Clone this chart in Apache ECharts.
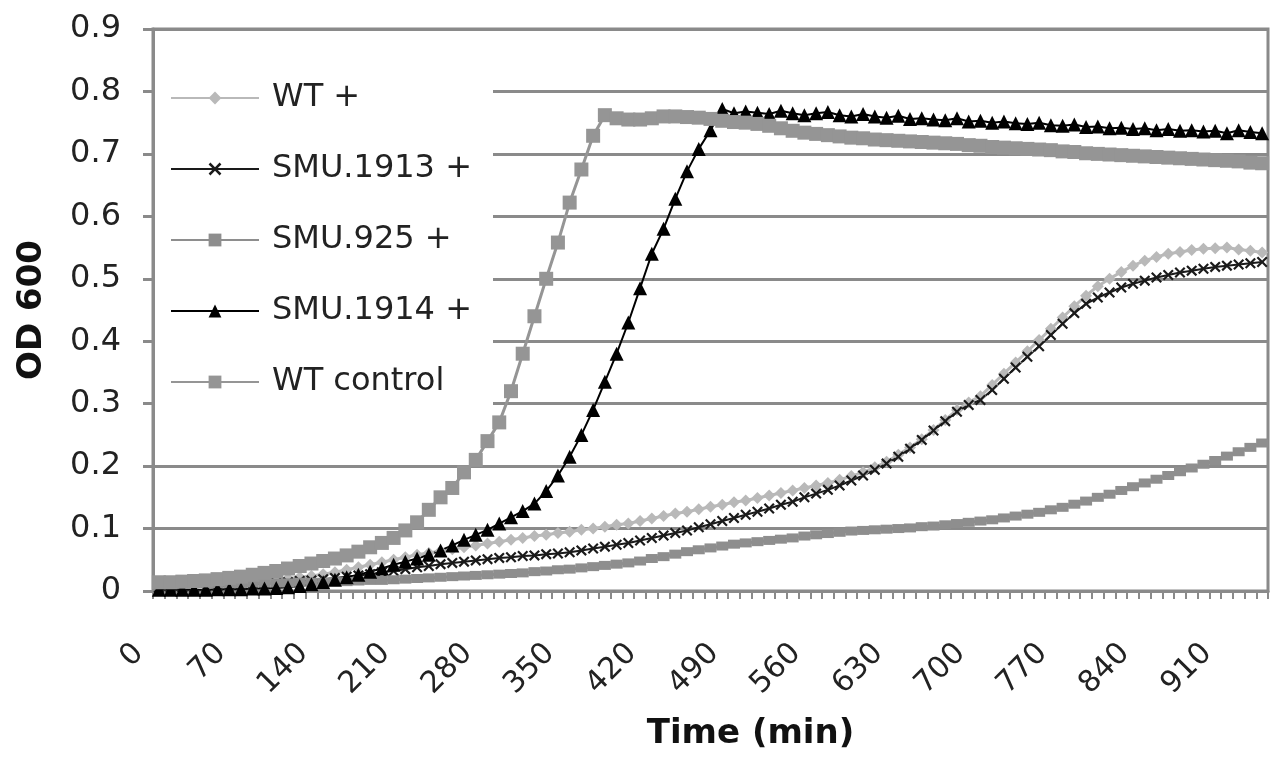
<!DOCTYPE html>
<html>
<head>
<meta charset="utf-8">
<script src="https://cdn.jsdelivr.net/npm/echarts@6/dist/echarts.min.js"></script>
<style>
html,body{margin:0;padding:0;background:#fff;}
#chart{width:1274px;height:758px;}
</style>
</head>
<body>
<div id="chart"></div>
<script>
// Time categories (min), one reading every 10 min
const times = [];
for (let t = 0; t <= 940; t += 10) times.push(String(t));

const wtPlus = [
0.010,0.010,0.011,0.011,0.012,0.012,0.013,0.014,0.015,0.016,
0.018,0.020,0.022,0.024,0.027,0.030,0.034,0.038,0.042,0.046,
0.050,0.054,0.058,0.061,0.064,0.067,0.070,0.073,0.076,0.079,
0.082,0.085,0.088,0.090,0.093,0.095,0.098,0.100,0.103,0.106,
0.108,0.112,0.116,0.120,0.124,0.127,0.131,0.135,0.138,0.142,
0.145,0.149,0.153,0.157,0.161,0.165,0.169,0.173,0.178,0.184,
0.190,0.198,0.207,0.218,0.230,0.243,0.258,0.274,0.290,0.302,
0.312,0.330,0.348,0.366,0.384,0.402,0.420,0.438,0.456,0.473,
0.488,0.500,0.511,0.521,0.529,0.535,0.540,0.543,0.546,0.548,
0.549,0.550,0.547,0.545,0.542];

const smu1913 = [
0.005,0.005,0.006,0.006,0.007,0.008,0.009,0.010,0.011,0.012,
0.013,0.014,0.016,0.017,0.019,0.021,0.023,0.025,0.027,0.030,
0.032,0.035,0.038,0.040,0.043,0.045,0.047,0.049,0.051,0.053,
0.054,0.056,0.057,0.059,0.060,0.062,0.065,0.068,0.071,0.074,
0.077,0.081,0.085,0.089,0.093,0.097,0.102,0.107,0.112,0.117,
0.122,0.127,0.132,0.138,0.143,0.150,0.156,0.162,0.169,0.177,
0.185,0.194,0.204,0.215,0.228,0.242,0.257,0.272,0.287,0.298,
0.306,0.322,0.340,0.358,0.375,0.392,0.410,0.428,0.445,0.460,
0.470,0.478,0.486,0.492,0.497,0.502,0.506,0.510,0.513,0.516,
0.519,0.521,0.523,0.525,0.527];

const smu925 = [
0.012,0.012,0.012,0.012,0.012,0.012,0.012,0.012,0.013,0.013,
0.013,0.013,0.014,0.014,0.014,0.015,0.015,0.016,0.017,0.017,
0.018,0.019,0.020,0.021,0.022,0.023,0.024,0.025,0.026,0.027,
0.028,0.029,0.031,0.032,0.034,0.035,0.037,0.039,0.041,0.043,
0.045,0.048,0.052,0.055,0.059,0.063,0.066,0.069,0.072,0.075,
0.077,0.079,0.081,0.083,0.085,0.088,0.090,0.092,0.094,0.096,
0.097,0.098,0.099,0.100,0.101,0.103,0.104,0.106,0.108,0.110,
0.112,0.114,0.117,0.120,0.123,0.126,0.130,0.134,0.139,0.144,
0.150,0.155,0.161,0.167,0.173,0.179,0.185,0.191,0.197,0.203,
0.209,0.216,0.223,0.230,0.237];

const smu1914 = [
0.002,0.002,0.002,0.002,0.002,0.003,0.003,0.003,0.004,0.004,
0.005,0.006,0.008,0.011,0.014,0.018,0.022,0.026,0.031,0.036,
0.042,0.047,0.052,0.058,0.065,0.073,0.082,0.090,0.098,0.108,
0.118,0.128,0.140,0.160,0.185,0.215,0.250,0.290,0.335,0.380,
0.430,0.485,0.540,0.580,0.628,0.672,0.708,0.738,0.772,0.765,
0.768,0.766,0.764,0.769,0.765,0.762,0.765,0.767,0.762,0.760,
0.764,0.760,0.758,0.761,0.756,0.757,0.755,0.754,0.757,0.752,
0.753,0.750,0.752,0.749,0.748,0.750,0.746,0.745,0.747,0.743,
0.744,0.741,0.742,0.740,0.741,0.738,0.740,0.737,0.738,0.736,
0.737,0.733,0.738,0.735,0.733];

const wtControl = [
0.014,0.014,0.015,0.016,0.017,0.019,0.021,0.023,0.026,0.029,
0.032,0.036,0.040,0.044,0.048,0.052,0.057,0.063,0.070,0.077,
0.085,0.097,0.110,0.130,0.150,0.165,0.190,0.210,0.240,0.270,
0.320,0.380,0.440,0.500,0.558,0.622,0.675,0.729,0.762,0.757,
0.755,0.755,0.757,0.760,0.760,0.759,0.758,0.756,0.753,0.751,
0.750,0.748,0.745,0.741,0.737,0.734,0.732,0.730,0.728,0.726,
0.725,0.723,0.722,0.721,0.720,0.719,0.718,0.717,0.716,0.714,
0.713,0.711,0.710,0.709,0.708,0.707,0.706,0.704,0.703,0.701,
0.700,0.699,0.698,0.697,0.696,0.695,0.694,0.693,0.692,0.691,
0.690,0.689,0.688,0.686,0.685];

const seriesNames = ['WT +', 'SMU.1913 +', 'SMU.925 +', 'SMU.1914 +', 'WT control'];
const yTicks = [0, 0.1, 0.2, 0.3, 0.4, 0.5, 0.6, 0.7, 0.8, 0.9];

const xMark = 'path://M0,1.4L1.4,0L5,3.6L8.6,0L10,1.4L6.4,5L10,8.6L8.6,10L5,6.4L1.4,10L0,8.6L3.6,5Z';

const chart = echarts.init(document.getElementById('chart'));
const font = 'DejaVu Sans';

function mk(name, data, color, symbol, size, width) {
  return {
    name: name, type: 'line', data: data,
    symbol: symbol, symbolSize: size, showAllSymbol: true,
    lineStyle: {color: color, width: width},
    itemStyle: {color: color},
    emphasis: {disabled: true}
  };
}

chart.setOption({
  animation: false,
  backgroundColor: '#fff',
  grid: {left: 153, right: 6, top: 29, bottom: 167, show: true, borderColor: '#8a8a8a', borderWidth: 3, backgroundColor: 'transparent'},
  graphic: [{
    type: 'rect', z: 1, silent: true,
    shape: {x: 155, y: 50, width: 338, height: 368},
    style: {fill: '#fff'}
  }],
  legend: {
    orient: 'vertical', left: 155, top: 60,
    padding: [20, 14, 20, 15],
    itemGap: 35, itemWidth: 88, itemHeight: 16,
    textStyle: {fontFamily: font, fontSize: 32, color: '#222', lineHeight: 36, padding: [0, 0, 0, 8]},
    data: seriesNames
  },
  xAxis: {
    type: 'category', data: times, boundaryGap: true,
    name: 'Time (min)', nameLocation: 'middle', nameGap: 126,
    nameTextStyle: {fontFamily: font, fontSize: 34, fontWeight: 'bold', color: '#111', padding: [0, 0, 0, 80]},
    axisLine: {lineStyle: {color: '#8a8a8a', width: 3}},
    axisTick: {show: true, interval: 0, length: 8, lineStyle: {color: '#8a8a8a', width: 2}},
    axisLabel: {interval: 6, rotate: 45, margin: 38, padding: [0, 28, 0, 0], fontFamily: font, fontSize: 30, color: '#222'},
    splitLine: {show: false}
  },
  yAxis: {
    type: 'value', min: 0, max: 0.9, interval: 0.1,
    name: 'OD 600', nameLocation: 'middle', nameGap: 104,
    nameTextStyle: {fontFamily: font, fontSize: 34, fontWeight: 'bold', color: '#111'},
    axisLine: {show: true, lineStyle: {color: '#8a8a8a', width: 3}},
    axisTick: {show: true, length: 10, lineStyle: {color: '#8a8a8a', width: 3}},
    axisLabel: {margin: 32, fontFamily: font, fontSize: 32, color: '#222',
      formatter: v => { const t = yTicks.find(k => Math.abs(k - v) < 1e-9); return t === 0 ? '0' : String(t); }},
    splitLine: {show: true, lineStyle: {color: '#8a8a8a', width: 3}}
  },
  series: [
    mk(seriesNames[0], wtPlus, '#b9b9b9', 'diamond', 12, 3),
    mk(seriesNames[1], smu1913, '#1a1a1a', xMark, 11, 2),
    mk(seriesNames[2], smu925, '#8e8e8e', 'rect', [12, 9], 3),
    mk(seriesNames[3], smu1914, '#000000', 'triangle', 14, 2),
    mk(seriesNames[4], wtControl, '#959595', 'rect', 14, 3)
  ]
});
</script>
</body>
</html>
